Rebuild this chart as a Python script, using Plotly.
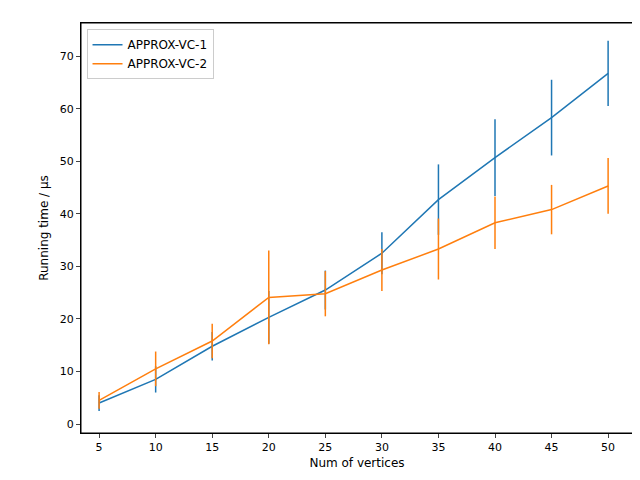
import plotly.graph_objects as go

vertices = [5, 10, 15, 20, 25, 30, 35, 40, 45, 50]
vc1_mean = [4.0, 8.5, 14.8, 20.3, 25.5, 32.5, 42.7, 50.7, 58.3, 66.7]
vc1_err = [1.5, 2.5, 2.7, 5.0, 3.7, 4.0, 6.7, 7.3, 7.2, 6.2]
vc2_mean = [4.5, 10.5, 15.8, 24.1, 24.8, 29.3, 33.3, 38.3, 40.8, 45.3]
vc2_err = [1.6, 3.3, 3.3, 8.9, 4.3, 4.0, 5.8, 5.0, 4.7, 5.3]

fig = go.Figure()
for name, m, e, c in [("APPROX-VC-1", vc1_mean, vc1_err, "#1f77b4"),
                      ("APPROX-VC-2", vc2_mean, vc2_err, "#ff7f0e")]:
    fig.add_trace(go.Scatter(x=vertices, y=m, name=name, mode="lines",
                             line=dict(color=c, width=1.5),
                             error_y=dict(type="data", array=e, color=c,
                                          thickness=1.5, width=0)))

axis = dict(showline=True, linecolor="black", linewidth=1, mirror=True,
            ticks="outside", ticklen=4, showgrid=False, zeroline=False,
            tickfont=dict(size=11), automargin=False)
fig.update_layout(
    width=640, height=480, plot_bgcolor="white", paper_bgcolor="white",
    margin=dict(l=73, r=15, t=15, b=55),
    font=dict(family="DejaVu Sans", color="black"),
    xaxis=dict(axis, range=[3.4, 52.2], tickvals=vertices,
               title=dict(text="Num of vertices", font=dict(size=12), standoff=5)),
    yaxis=dict(axis, range=[-1.7, 76.3], dtick=10,
               title=dict(text="Running time / μs", font=dict(size=12), standoff=8)),
    legend=dict(x=0.01, y=0.985, xanchor="left", yanchor="top",
                bordercolor="#cccccc", borderwidth=1, font=dict(size=12),
                tracegroupgap=0, itemwidth=30),
    shapes=[dict(type="rect", xref="paper", yref="paper", x0=0, x1=1, y0=0, y1=1,
                 line=dict(color="black", width=1))],
)
fig.write_html("out.html")
